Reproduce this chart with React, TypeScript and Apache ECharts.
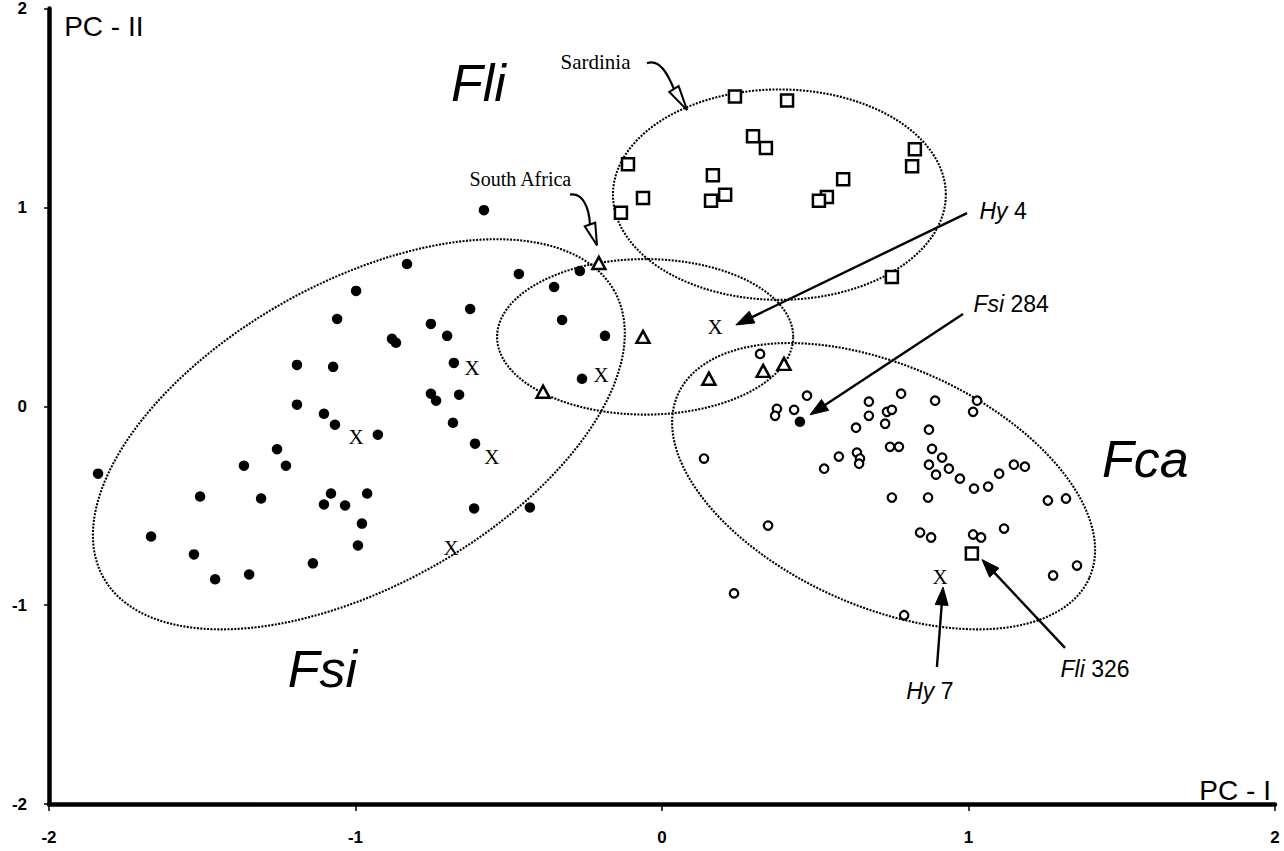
import React, { useEffect, useRef } from 'react';
import * as echarts from 'echarts';

// ---------------- data (PC-I, PC-II) ----------------
const fsiPoints: [number, number][] = [
  [-1.840, -0.339], [-1.667, -0.655], [-1.507, -0.454], [-1.527, -0.745], [-1.458, -0.870],
  [-1.364, -0.299], [-1.347, -0.846], [-1.308, -0.464], [-1.256, -0.216], [-1.227, -0.299],
  [-1.191, 0.208], [-1.191, 0.008], [-1.139, -0.790], [-1.103, -0.038], [-1.080, -0.439],
  [-1.103, -0.494], [-1.073, 0.198], [-1.067, -0.093], [-1.060, 0.439], [-1.034, -0.499],
  [-0.998, 0.580], [-0.979, -0.590], [-0.992, -0.700], [-0.962, -0.439], [-0.927, -0.143],
  [-0.881, 0.339], [-0.868, 0.319], [-0.832, 0.715], [-0.754, 0.414], [-0.754, 0.063],
  [-0.737, 0.028], [-0.701, 0.354], [-0.679, 0.218], [-0.662, 0.058], [-0.682, -0.083],
  [-0.626, 0.489], [-0.610, -0.188], [-0.613, -0.514], [-0.431, -0.509], [-0.467, 0.665],
  [-0.352, 0.600], [-0.268, 0.680], [-0.326, 0.434], [-0.186, 0.354], [-0.261, 0.138],
  [-0.581, 0.986], [0.450, -0.078]
];

const fcaPoints: [number, number][] = [
  [0.320, 0.263], [0.473, 0.053], [0.375, -0.013], [0.369, -0.048], [0.431, -0.018],
  [0.675, 0.023], [0.780, 0.063], [0.675, -0.048], [0.734, -0.028], [0.750, -0.018],
  [0.728, -0.088], [0.633, -0.108], [0.891, 0.028], [1.028, 0.028], [1.015, -0.028],
  [0.871, -0.118], [0.137, -0.263], [0.577, -0.253], [0.529, -0.314], [0.636, -0.233],
  [0.646, -0.263], [0.643, -0.289], [0.744, -0.204], [0.773, -0.204], [0.881, -0.214],
  [0.914, -0.258], [0.871, -0.294], [0.936, -0.314], [0.894, -0.344], [0.972, -0.364],
  [1.018, -0.414], [1.064, -0.404], [1.100, -0.339], [1.148, -0.294], [1.184, -0.304],
  [0.750, -0.459], [0.868, -0.459], [1.259, -0.474], [1.318, -0.464], [0.346, -0.600],
  [0.842, -0.635], [0.878, -0.660], [1.015, -0.645], [1.041, -0.660], [1.116, -0.615],
  [1.276, -0.851], [1.354, -0.801], [0.235, -0.941], [0.790, -1.051]
];

const fliPoints: [number, number][] = [
  [0.238, 1.558], [0.408, 1.538], [0.297, 1.358], [0.339, 1.298], [-0.111, 1.217],
  [0.166, 1.162], [-0.062, 1.047], [0.160, 1.033], [0.206, 1.063], [-0.134, 0.973],
  [0.825, 1.292], [0.816, 1.207], [0.591, 1.142], [0.538, 1.052], [0.512, 1.033],
  [0.750, 0.650], [1.011, -0.740]
];

const southAfricaPoints: [number, number][] = [
  [-0.206, 0.720], [-0.062, 0.349], [-0.388, 0.073], [0.153, 0.138], [0.330, 0.178], [0.398, 0.213]
];

const hybridPoints: [number, number][] = [
  [-0.620, 0.193], [-0.998, -0.153], [-0.555, -0.254], [-0.688, -0.715],
  [-0.199, 0.159], [0.173, 0.399], [0.907, -0.861]
];

// dotted group ellipses: centre and two half-axis vectors, in data units
const ellipseCenters: [number, number][] = [[-0.989, -0.141], [-0.055, 0.349], [0.383, 1.064], [0.723, -0.402]];
const ellipseAxisU: [number, number][] = [[0.833, 0.722], [0.483, 0], [0.543, 0], [0.671, -0.462]];
const ellipseAxisV: [number, number][] = [[-0.243, 0.664], [0, 0.391], [0, 0.529], [-0.161, -0.552]];

// straight arrows with filled heads: [from, to]
const arrowFrom: [number, number][] = [[0.995, 0.971], [0.982, 0.464], [0.897, -1.311], [1.315, -1.215]];
const arrowTo: [number, number][] = [[0.241, 0.409], [0.483, -0.043], [0.917, -0.909], [1.044, -0.771]];

// curved arrows with hollow heads: start, control 1, control 2, head base, tip
const curveStart: [number, number][] = [[-0.049, 1.725], [-0.300, 1.064]];
const curveCp1: [number, number][] = [[-0.007, 1.750], [-0.258, 1.074]];
const curveCp2: [number, number][] = [[0.020, 1.665], [-0.238, 0.999]];
const curveEnd: [number, number][] = [[0.039, 1.595], [-0.235, 0.914]];
const curveTip: [number, number][] = [[0.082, 1.489], [-0.212, 0.809]];

const xTicks = [-2, -1, 0, 1, 2];

const SANS = '"Liberation Sans", Arial, sans-serif';
const SERIF = '"Liberation Serif", "Times New Roman", serif';

type Lbl = { text: string; pos: [number, number]; size: number; family: string; italicAll?: boolean };
const textLabels: Lbl[] = [
  { text: 'Fli', pos: [-0.599, 1.624], size: 52, family: SANS, italicAll: true },
  { text: 'Fsi', pos: [-1.108, -1.320], size: 52, family: SANS, italicAll: true },
  { text: 'Fca', pos: [1.577, -0.266], size: 52, family: SANS, italicAll: true },
  { text: 'Sardinia', pos: [-0.217, 1.730], size: 21, family: SERIF },
  { text: 'South Africa', pos: [-0.462, 1.144], size: 20, family: SERIF },
  { text: '{i|Hy} 4', pos: [1.113, 0.981], size: 23, family: SANS },
  { text: '{i|Fsi} 284', pos: [1.139, 0.514], size: 23, family: SANS },
  { text: '{i|Hy} 7', pos: [0.874, -1.433], size: 23, family: SANS },
  { text: '{i|Fli} 326', pos: [1.413, -1.322], size: 23, family: SANS },
  { text: 'PC - II', pos: [-1.821, 1.910], size: 28, family: SANS },
  { text: 'PC - I', pos: [1.870, -1.930], size: 28, family: SANS }
];

function headPolygon(tip: number[], base: number[], width: number) {
  const dx = tip[0] - base[0];
  const dy = tip[1] - base[1];
  const len = Math.sqrt(dx * dx + dy * dy) || 1;
  const nx = -dy / len;
  const ny = dx / len;
  return [
    [tip[0], tip[1]],
    [base[0] + nx * width / 2, base[1] + ny * width / 2],
    [base[0] - nx * width / 2, base[1] - ny * width / 2]
  ];
}

export default function App() {
  const ref = useRef<HTMLDivElement>(null);

  useEffect(() => {
    document.body.style.margin = '0';
    if (!ref.current) return;
    const chart = echarts.init(ref.current, undefined, { renderer: 'svg' });

    const option: any = {
      animation: false,
      backgroundColor: '#ffffff',
      grid: { left: 49, right: 9, top: 5, bottom: 47, containLabel: false },
      xAxis: {
        type: 'value', min: xTicks[0], max: xTicks[xTicks.length - 1], interval: 1,
        splitLine: { show: false },
        axisLine: { onZero: false, lineStyle: { color: '#000', width: 4.5 } },
        axisTick: { show: true, length: 7, lineStyle: { color: '#000', width: 1.5 } },
        axisLabel: { color: '#000', fontSize: 17, fontWeight: 'bold', fontFamily: SANS, margin: 25 }
      },
      yAxis: {
        type: 'value', min: -2, max: 2, interval: 1,
        splitLine: { show: false },
        axisLine: { onZero: false, lineStyle: { color: '#000', width: 4.5 } },
        axisTick: { show: true, length: 5, lineStyle: { color: '#000', width: 1.5 } },
        axisLabel: { color: '#000', fontSize: 17, fontWeight: 'bold', fontFamily: SANS, margin: 22 }
      },
      series: [
        {
          type: 'custom', name: 'ellipses', silent: true, z: 1,
          data: ellipseCenters,
          renderItem: (params: any, api: any) => {
            const i = params.dataIndex;
            const c = ellipseCenters[i], u = ellipseAxisU[i], v = ellipseAxisV[i];
            const pts: number[][] = [];
            const N = 240;
            for (let k = 0; k <= N; k++) {
              const t = (2 * Math.PI * k) / N;
              pts.push(api.coord([
                c[0] + u[0] * Math.cos(t) + v[0] * Math.sin(t),
                c[1] + u[1] * Math.cos(t) + v[1] * Math.sin(t)
              ]));
            }
            return {
              type: 'polyline',
              shape: { points: pts },
              style: { stroke: '#000', fill: null, lineWidth: 2.1, lineDash: [2, 1.4] }
            };
          }
        },
        {
          type: 'custom', name: 'arrows', silent: true, z: 3,
          data: arrowTo,
          renderItem: (params: any, api: any) => {
            const i = params.dataIndex;
            const a = api.coord(arrowFrom[i]);
            const b = api.coord(arrowTo[i]);
            const dx = b[0] - a[0], dy = b[1] - a[1];
            const len = Math.sqrt(dx * dx + dy * dy);
            const hl = 18;
            const base = [b[0] - dx / len * hl, b[1] - dy / len * hl];
            return {
              type: 'group',
              children: [
                { type: 'line', shape: { x1: a[0], y1: a[1], x2: base[0], y2: base[1] }, style: { stroke: '#000', lineWidth: 2.4 } },
                { type: 'polygon', shape: { points: headPolygon(b, base, 13) }, style: { fill: '#000', stroke: '#000', lineWidth: 1 } }
              ]
            };
          }
        },
        {
          type: 'custom', name: 'curvedArrows', silent: true, z: 3,
          data: curveTip,
          renderItem: (params: any, api: any) => {
            const i = params.dataIndex;
            const s = api.coord(curveStart[i]);
            const c1 = api.coord(curveCp1[i]);
            const c2 = api.coord(curveCp2[i]);
            const e = api.coord(curveEnd[i]);
            const t = api.coord(curveTip[i]);
            return {
              type: 'group',
              children: [
                { type: 'bezierCurve', shape: { x1: s[0], y1: s[1], cpx1: c1[0], cpy1: c1[1], cpx2: c2[0], cpy2: c2[1], x2: e[0], y2: e[1] }, style: { stroke: '#000', fill: null, lineWidth: 2.2 } },
                { type: 'polygon', shape: { points: headPolygon(t, e, 11) }, style: { fill: '#fff', stroke: '#000', lineWidth: 2 } }
              ]
            };
          }
        },
        {
          type: 'scatter', name: 'Fsi', z: 4,
          data: fsiPoints, symbol: 'circle', symbolSize: 10.5,
          itemStyle: { color: '#000', opacity: 1 }
        },
        {
          type: 'scatter', name: 'Fca', z: 4,
          data: fcaPoints, symbol: 'circle', symbolSize: 8.5,
          itemStyle: { color: '#fff', borderColor: '#000', borderWidth: 2.2, opacity: 1 }
        },
        {
          type: 'scatter', name: 'Fli', z: 4,
          data: fliPoints, symbol: 'rect', symbolSize: 12,
          itemStyle: { color: '#fff', borderColor: '#000', borderWidth: 2.5, opacity: 1 }
        },
        {
          type: 'scatter', name: 'South Africa', z: 4,
          data: southAfricaPoints, symbol: 'triangle', symbolSize: [13, 12],
          itemStyle: { color: '#fff', borderColor: '#000', borderWidth: 2.5, opacity: 1 }
        },
        {
          type: 'scatter', name: 'Hybrids', z: 5,
          data: hybridPoints, symbol: 'circle', symbolSize: 1,
          itemStyle: { color: 'rgba(0,0,0,0)', opacity: 1 },
          label: { show: true, position: 'inside', formatter: 'X', color: '#000', fontFamily: SERIF, fontSize: 21 }
        },
        {
          type: 'scatter', name: 'labels', z: 6, silent: true,
          symbol: 'circle', symbolSize: 1,
          itemStyle: { color: 'rgba(0,0,0,0)', opacity: 1 },
          data: textLabels.map((l) => ({
            value: l.pos,
            label: {
              show: true, position: 'inside', formatter: l.text, color: '#000',
              fontFamily: l.family, fontSize: l.size,
              fontStyle: l.italicAll ? 'italic' : 'normal',
              rich: { i: { fontStyle: 'italic', fontFamily: l.family, fontSize: l.size, color: '#000' } }
            }
          }))
        }
      ]
    };

    chart.setOption(option);
    return () => chart.dispose();
  }, []);

  return <div ref={ref} style={{ width: 1284, height: 851, background: '#fff' }} />;
}
